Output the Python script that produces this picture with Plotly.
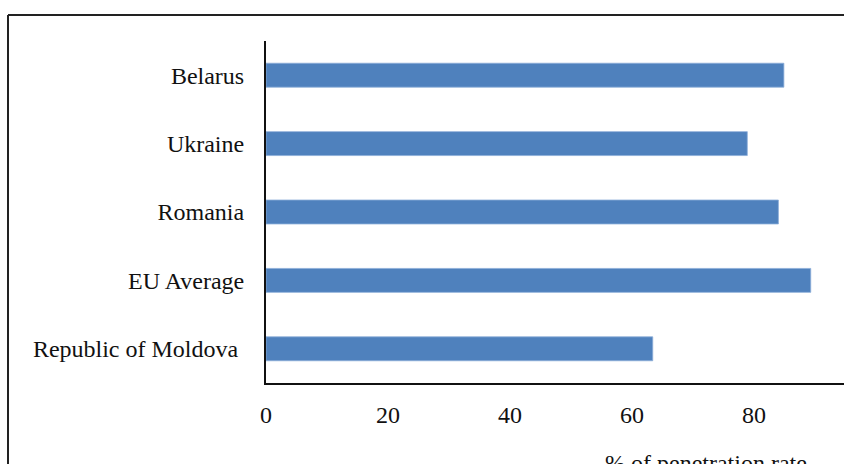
import plotly.graph_objects as go

# Mobile penetration rate by country (bottom to top)
countries = ["Republic of Moldova\u00a0", "EU Average", "Romania", "Ukraine", "Belarus"]
penetration = [63.4, 89.3, 84, 78.9, 84.9]

x_ticks = [0, 20, 40, 60, 80]
x_title = "% of penetration rate"

W, H = 844, 464
L, R, T, B = 266, 0, 41, 81
pw, ph = W - L - R, H - T - B


def px_x(p):
    return (p - L) / pw


def px_y(p):
    return (H - B - p) / ph


serif = "Liberation Serif"

fig = go.Figure(
    go.Bar(
        y=countries,
        x=penetration,
        orientation="h",
        marker=dict(color="#4F81BD", line=dict(color="#8CADD8", width=0.8)),
        hoverinfo="x+y",
    )
)

fig.update_layout(
    width=W,
    height=H,
    margin=dict(l=L, r=R, t=T, b=B),
    paper_bgcolor="white",
    plot_bgcolor="white",
    bargap=0.65,
    showlegend=False,
    font=dict(family=serif, size=24, color="#111111"),
    xaxis=dict(
        range=[0, pw / 6.1],
        tickvals=x_ticks,
        ticktext=[str(v) for v in x_ticks],
        showgrid=False,
        zeroline=False,
        showline=True,
        linecolor="#111111",
        linewidth=2,
        ticks="",
        ticklabelstandoff=9,
        tickfont=dict(family=serif, size=24, color="#111111"),
    ),
    yaxis=dict(
        showgrid=False,
        zeroline=False,
        showline=True,
        linecolor="#111111",
        linewidth=2,
        ticks="",
        ticklabelstandoff=15,
        tickfont=dict(family=serif, size=24, color="#111111"),
    ),
    shapes=[
        # outer frame (top and left edges)
        dict(type="line", xref="paper", yref="paper",
             x0=px_x(8), x1=px_x(W + 20), y0=px_y(15), y1=px_y(15),
             line=dict(color="#222222", width=2)),
        dict(type="line", xref="paper", yref="paper",
             x0=px_x(8), x1=px_x(8), y0=px_y(15), y1=px_y(H + 20),
             line=dict(color="#222222", width=2)),
    ],
    annotations=[
        dict(text=x_title, xref="paper", yref="paper",
             x=px_x(706), y=px_y(463), xanchor="center", yanchor="middle",
             showarrow=False, font=dict(family=serif, size=24, color="#111111")),
    ],
)

fig.write_html("out.html")
